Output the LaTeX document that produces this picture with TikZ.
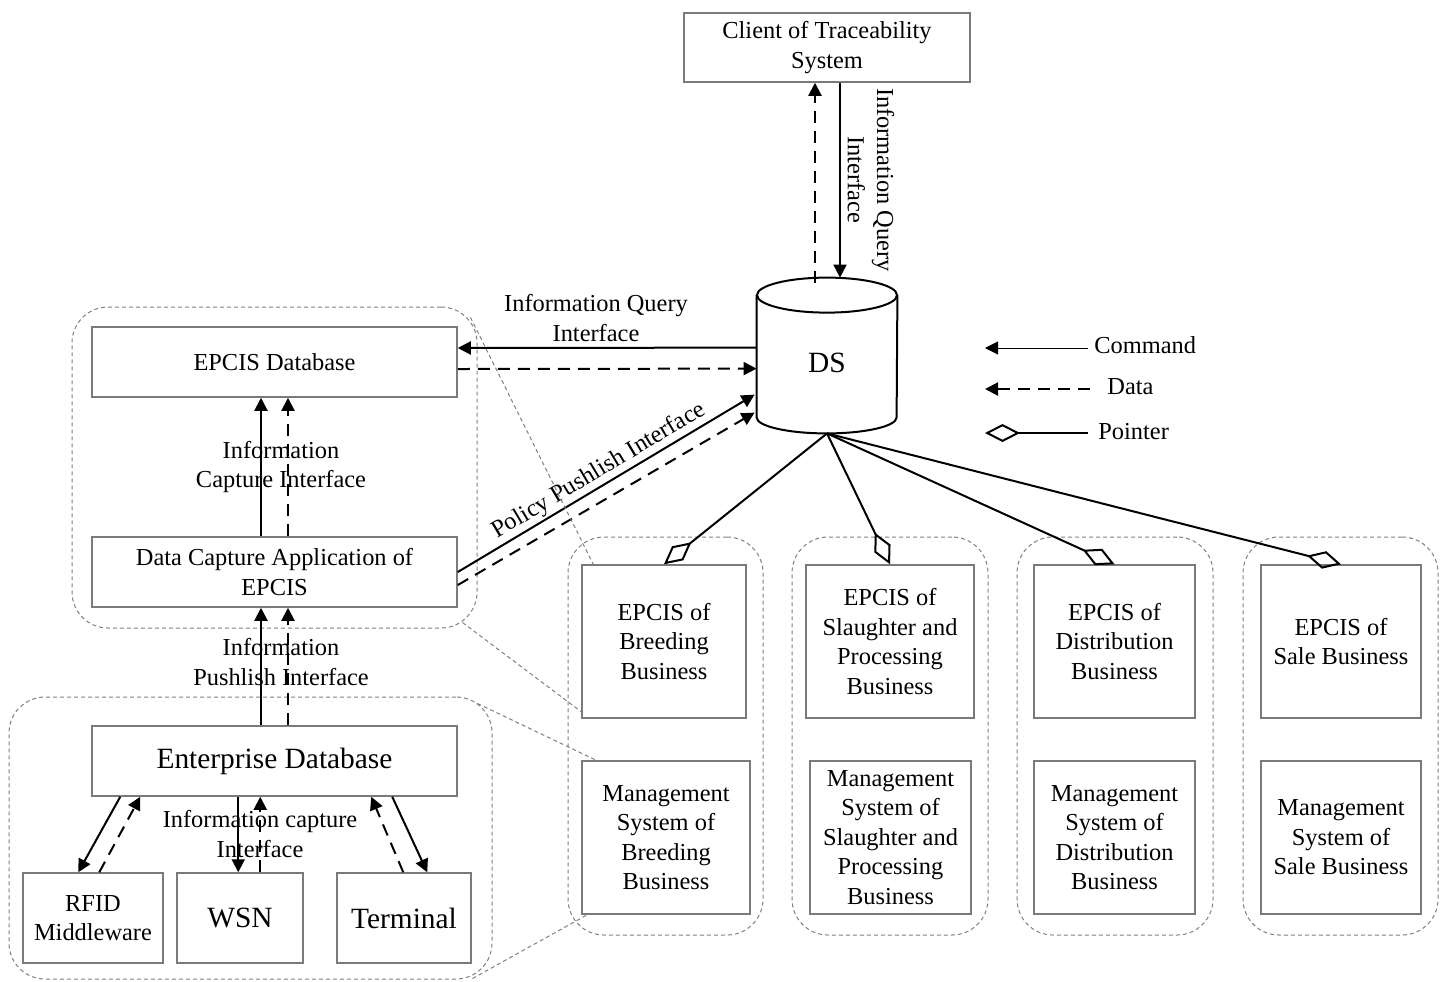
\documentclass[tikz,border=0pt]{standalone}
\usepackage{fontspec}
\setmainfont{Liberation Serif}
\usetikzlibrary{arrows.meta,calc}
\definecolor{boxgray}{HTML}{7A7A7A}
\definecolor{grpgray}{HTML}{808080}
\newcommand\myfnt{\fontsize{12.2pt}{14.7pt}\selectfont}
\newcommand\mybig{\fontsize{14.7pt}{17pt}\selectfont}
\begin{document}
\begin{tikzpicture}[x=0.5pt,y=-0.5pt,
  box/.style={draw=boxgray, line width=0.75pt, inner sep=0pt, align=center, font=\myfnt},
  grp/.style={draw=grpgray, line width=0.5pt, dash pattern=on 2pt off 1.5pt, rounded corners=18pt, inner sep=0pt},
  cmd/.style={line width=1pt, -{Triangle[length=6.5pt,width=6.5pt]}},
  dat/.style={cmd, dash pattern=on 6pt off 4pt},
  ptr/.style={line width=1pt, -{Diamond[open,length=17.5pt,width=9pt]}},
  zl/.style={draw=grpgray, line width=0.5pt, dash pattern=on 2pt off 1.5pt},
  lbl/.style={align=center, font=\myfnt, inner sep=0pt}]
\useasboundingbox (0,0) rectangle (1443,981);

% groups
\node[grp, minimum width=202.5pt, minimum height=160.5pt] (gtop) at (274.5,467.5) {};
\node[grp, minimum width=241.5pt, minimum height=141pt] (gbot) at (250.5,838) {};
\node[grp, minimum width=97.5pt, minimum height=199pt] (g1) at (665.5,736) {};
\node[grp, minimum width=98pt, minimum height=199pt] (g2) at (890,736) {};
\node[grp, minimum width=98pt, minimum height=199pt] (g3) at (1115,736) {};
\node[grp, minimum width=97.5pt, minimum height=199pt] (g4) at (1340.5,736) {};

% boxes
\node[box, minimum width=143pt, minimum height=34.5pt] (client) at (827,47.5) {Client of Traceability\\System};
\node[box, minimum width=182.5pt, minimum height=35pt] (epcisdb) at (274.5,362) {EPCIS Database};
\node[box, minimum width=182.5pt, minimum height=35pt] (datacap) at (274.5,572) {Data Capture Application of\\EPCIS};
\node[box, font=\mybig, minimum width=182.5pt, minimum height=35pt] (ent) at (274.5,761) {Enterprise Database};
\node[box, minimum width=70pt, minimum height=45pt] (rfid) at (93,918) {RFID\\Middleware};
\node[box, font=\mybig, minimum width=63pt, minimum height=45pt] (wsn) at (240,918) {WSN};
\node[box, font=\mybig, minimum width=67pt, minimum height=45pt] (term) at (404,918) {Terminal};

\node[box, minimum width=82pt, minimum height=76.5pt] (e1) at (664,641.5) {EPCIS of\\Breeding\\Business};
\node[box, minimum width=84pt, minimum height=76.5pt] (m1) at (666,837.5) {Management\\System of\\Breeding\\Business};
\node[box, minimum width=84pt, minimum height=76.5pt] (e2) at (890,641.5) {EPCIS of\\Slaughter and\\Processing\\Business};
\node[box, minimum width=80.5pt, minimum height=76.5pt] (m2) at (890.5,837.5) {Management\\System of\\Slaughter and\\Processing\\Business};
\node[box, minimum width=80.5pt, minimum height=76.5pt] (e3) at (1114.5,641.5) {EPCIS of\\Distribution\\Business};
\node[box, minimum width=80.5pt, minimum height=76.5pt] (m3) at (1114.5,837.5) {Management\\System of\\Distribution\\Business};
\node[box, minimum width=80pt, minimum height=76.5pt] (e4) at (1341,641.5) {EPCIS of\\Sale Business};
\node[box, minimum width=80pt, minimum height=76.5pt] (m4) at (1341,837.5) {Management\\System of\\Sale Business};

% DS cylinder
\node[minimum width=70pt, minimum height=77.5pt, inner sep=0pt] (ds) at (827,355.5) {};
\draw[line width=1pt] ([yshift=-8.75pt]ds.north west) -- ([yshift=8pt]ds.south west)
  arc[start angle=180, end angle=360, x radius=35pt, y radius=8pt] -- ([yshift=-8.75pt]ds.north east);
\draw[line width=1pt] ([yshift=-8.75pt]ds.north) ellipse[x radius=35pt, y radius=8.75pt];
\node[font=\mybig, inner sep=0pt] (dstext) at (827,363) {DS};

% client <-> DS
\draw[cmd] ([xshift=6.5pt]client.south) -- ([xshift=6.5pt]ds.north);
\draw[dat] ([xshift=-6pt,yshift=-2.5pt]ds.north) -- ([xshift=-6pt]client.south);
\node[lbl, rotate=-90] (lq1) at (871,180) {Information Query\\Interface};

% EPCIS db <-> DS
\draw[cmd] ($(ds.north west)+(0,70)$) -- ([yshift=7pt]epcisdb.east);
\draw[dat] ([yshift=-3.5pt]epcisdb.east) -- ($(ds.north west)+(0,91)$);
\node[lbl] (lq2) at (596,318) {Information Query\\Interface};

% policy publish
\draw[cmd] (datacap.east) -- node[midway, sloped, above, font=\myfnt, inner sep=1pt] (lpp) {Policy Pushlish Interface} ($(ds.north west)+(-2,117)$);
\draw[dat] ([yshift=-6.5pt]datacap.east) -- ($(ds.north west)+(-2,135)$);

% vertical arrows left
\draw[cmd] ([xshift=-6.75pt]datacap.north) -- ([xshift=-6.75pt]epcisdb.south);
\draw[dat] ([xshift=6.75pt]datacap.north) -- ([xshift=6.75pt]epcisdb.south);
\node[lbl] (lcap) at (281,467) {Information\\Capture Interface};
\draw[cmd] ([xshift=-6.75pt]ent.north) -- ([xshift=-6.75pt]datacap.south);
\draw[dat] ([xshift=6.75pt]ent.north) -- ([xshift=6.75pt]datacap.south);
\node[lbl] (lpub) at (281,662) {Information\\Pushlish Interface};

% enterprise <-> devices
\draw[cmd] ($(ent.south west)+(29,0)$) -- ($(rfid.north west)+(56,0)$);
\draw[dat] ($(rfid.north west)+(77,0)$) -- ($(ent.south west)+(49,0)$);
\draw[cmd] ($(ent.south west)+(147,0)$) -- ($(wsn.north west)+(62,0)$);
\draw[dat] ($(wsn.north west)+(84,0)$) -- ($(ent.south west)+(169,0)$);
\draw[dat] ($(term.north west)+(67,0)$) -- ($(ent.south west)+(280,0)$);
\draw[cmd] ($(ent.south west)+(301,0)$) -- ($(term.north west)+(91,0)$);
\node[lbl] (lic) at (260,834) {Information capture\\Interface};

% pointers
\draw[ptr] (ds.south) -- (e1.north);
\draw[ptr] (ds.south) -- (e2.north);
\draw[ptr] (ds.south) -- (e3.north);
\draw[ptr] (ds.south) -- (e4.north);

% zoom lines
\draw[zl] ($(gtop.north east)+(-7,11)$) -- ($(e1.north west)+(12,0)$);
\draw[zl] ($(gtop.south east)+(-15,-6)$) -- ($(e1.south west)+(0,-7)$);
\draw[zl] ($(gbot.north east)+(-15,7)$) -- ($(m1.north west)+(15,0)$);
\draw[zl] ($(gbot.south east)+(-20,-1)$) -- ($(m1.south west)+(6,0)$);

% legend
\node[lbl, anchor=west] (lcmd) at (1094,345) {Command};
\node[lbl, anchor=west] (ldat) at (1107,387) {Data};
\node[lbl, anchor=west] (lptr) at (1098,432) {Pointer};
\coordinate (lc0) at (985,348);
\coordinate (ld0) at (985,389);
\coordinate (lp0) at (985,433);
\draw[line width=0.5pt, -{Triangle[length=6.5pt,width=6.5pt]}] ([xshift=-3pt,yshift=-1.5pt]lcmd.west) -- (lc0);
\draw[dat] ([xshift=-8.5pt,yshift=-1pt]ldat.west) -- (ld0);
\draw[ptr] ([xshift=-5pt,yshift=-0.5pt]lptr.west) -- (lp0);
\end{tikzpicture}
\end{document}
